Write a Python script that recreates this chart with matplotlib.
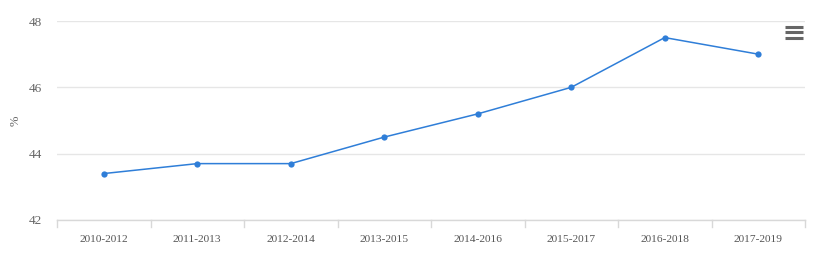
import matplotlib
matplotlib.use("Agg")
import matplotlib.pyplot as plt
from matplotlib.lines import Line2D

categories = ["2010-2012", "2011-2013", "2012-2014", "2013-2015",
              "2014-2016", "2015-2017", "2016-2018", "2017-2019"]
values = [43.4, 43.7, 43.7, 44.5, 45.2, 46.0, 47.5, 47.0]
yticks = [42, 44, 46, 48]
ylabel = "%"

plt.rcParams['font.family'] = ['Liberation Serif', 'DejaVu Serif']

fig = plt.figure(figsize=(8.17, 2.61), dpi=100)
ax = fig.add_axes([57/817, 41/261, 748/817, 199/261])

x = list(range(len(categories)))
ax.plot(x, values, color="#2f7ed8", lw=1.1, marker="o", ms=4.5,
        markeredgewidth=0, zorder=3, clip_on=False)

ax.set_xlim(-0.5, len(categories) - 0.5)
ax.set_ylim(42, 48)
ax.set_yticks(yticks)
ax.set_yticklabels([str(t) for t in yticks], fontsize=9.5, color="#666666")
ax.set_xticks(x)
ax.set_xticklabels(categories, fontsize=8.2, color="#555555")
ax.tick_params(axis="x", length=0, pad=11)
ax.tick_params(axis="y", length=0, pad=11)
ax.grid(axis="y", color="#e6e6e6", lw=1)
ax.set_axisbelow(True)
for s in ["top", "right", "left"]:
    ax.spines[s].set_visible(False)
ax.spines["bottom"].set_color("#d8d8d8")
ax.spines["bottom"].set_linewidth(1)

# category boundary ticks
for b in [i - 0.5 for i in range(len(categories) + 1)]:
    ax.plot([b, b], [0, -0.035], transform=ax.get_xaxis_transform(),
            color="#d8d8d8", lw=1, clip_on=False)

fig.text(16/817, 1 - 121/261, ylabel, rotation=90, ha="center", va="center",
         fontsize=9, color="#666666")

# menu icon
for yy in [27, 32.5, 38]:
    fig.add_artist(Line2D([785/817, 803/817], [1 - yy/261, 1 - yy/261],
                          color="#666666", lw=2.2, solid_capstyle="butt"))

fig.savefig("out.png", dpi=100)
